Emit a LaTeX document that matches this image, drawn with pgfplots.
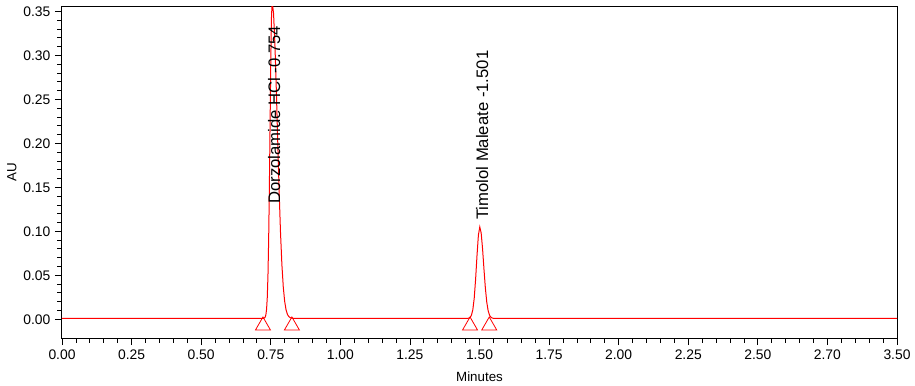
\documentclass[border=0pt]{standalone}
\usepackage{fontspec}
\setmainfont{Liberation Sans}
\usepackage{pgfplots}
\pgfplotsset{compat=1.18}

\begin{document}
\begin{tikzpicture}
\begin{axis}[
  scale only axis,
  width=626.25pt, height=248.25pt,
  xmin=0, xmax=3, ymin=-0.0213, ymax=0.355,
  xtick={0,0.25,0.5,0.75,1,1.25,1.5,1.75,2,2.25,2.5,2.75,3},
  xticklabels={0.00,0.25,0.50,0.75,1.00,1.25,1.50,1.75,2.00,2.25,2.50,2.70,3.50},
  ytick={0,0.05,0.10,0.15,0.20,0.25,0.30,0.35},
  yticklabels={0.00,0.05,0.10,0.15,0.20,0.25,0.30,0.35},
  minor x tick num=4, minor y tick num=4,
  tick align=outside, tick pos=left,
  major tick length=5.25pt, minor tick length=3.4pt,
  tick style={black, line width=0.6pt},
  axis line style={black, line width=0.75pt},
  ticklabel style={font=\fontsize{10.4}{12}\selectfont},
  label style={font=\fontsize{10}{12}\selectfont},
  xlabel={Minutes}, ylabel={AU},
  xlabel style={at={(axis description cs:0.5,-0.1178)}, anchor=center},
  ylabel style={at={(axis description cs:-0.0599,0.5)}, anchor=center},
]
\addplot[red, line width=0.75pt] coordinates {
(0,0.001) (0.700,0.001) (0.725,0.0011) (0.730,0.0024) (0.7325,0.0050)
(0.735,0.0113) (0.7375,0.0247) (0.740,0.0497) (0.7425,0.0908) (0.745,0.149)
(0.7475,0.219) (0.750,0.289) (0.7525,0.342) (0.755,0.361) (0.760,0.348)
(0.765,0.3126) (0.770,0.261) (0.775,0.203) (0.780,0.147) (0.785,0.099)
(0.790,0.0623) (0.795,0.0367) (0.800,0.0203) (0.805,0.0107) (0.810,0.0055)
(0.815,0.0030) (0.820,0.0018) (0.825,0.0013) (0.835,0.001)
(1.455,0.001) (1.461,0.0012) (1.466,0.0020) (1.471,0.0045) (1.476,0.0108)
(1.481,0.0239) (1.486,0.0454) (1.491,0.0723) (1.496,0.0956) (1.501,0.105)
(1.506,0.0981) (1.511,0.0801) (1.516,0.0571) (1.521,0.0357) (1.526,0.0197)
(1.531,0.0098) (1.536,0.0046) (1.541,0.0023) (1.546,0.0014) (1.551,0.001)
(3,0.001)
};
\addplot[red, only marks, mark=triangle, mark size=6.5pt, line width=0.6pt] coordinates {
(0.722,-0.0073) (0.826,-0.0073) (1.466,-0.0073) (1.535,-0.0073)
};
\node[rotate=90, anchor=west, inner sep=0pt, font=\fontsize{12.5}{14}\selectfont] at (axis cs:0.762,0.131) {Dorzolamide HCl -0.754};
\node[rotate=90, anchor=west, inner sep=0pt, font=\fontsize{12.5}{14}\selectfont] at (axis cs:1.510,0.113) {Timolol Maleate -1.501};
\coordinate (A) at (rel axis cs:0,0);
\coordinate (B) at (rel axis cs:1,1);
\end{axis}
\pgfresetboundingbox
\path ([shift={(-46.5pt,-35.25pt)}]A) rectangle ([shift={(13.5pt,5.25pt)}]B);
\end{tikzpicture}
\end{document}
